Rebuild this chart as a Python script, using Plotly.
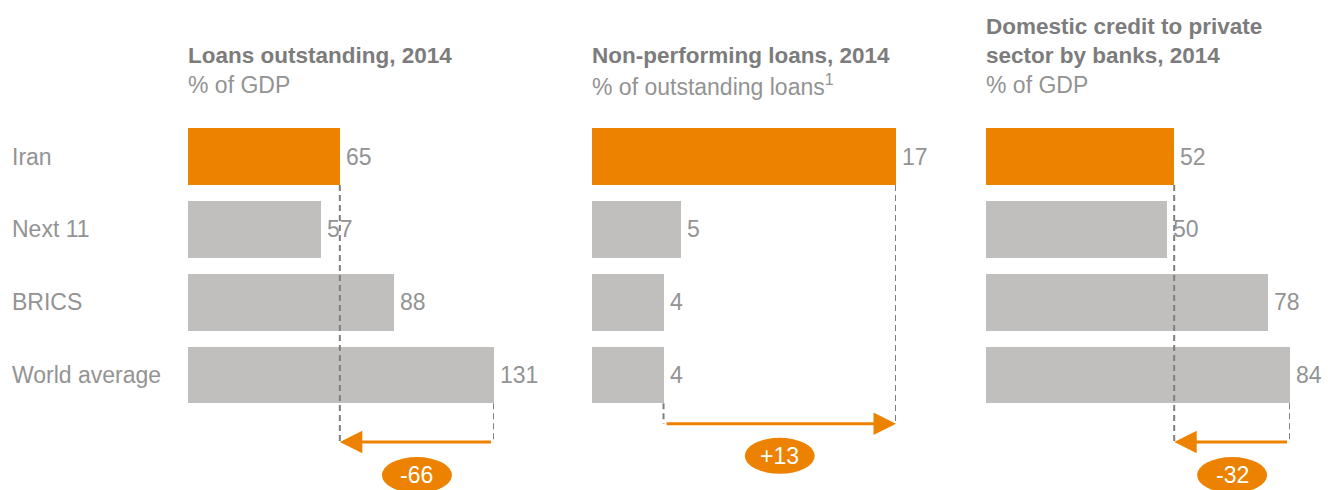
import plotly.graph_objects as go

# data
categories = ["Iran", "Next 11", "BRICS", "World average"]
loans_outstanding = [65, 57, 88, 131]
non_performing = [17, 5, 4, 4]
domestic_credit = [52, 50, 78, 84]

panel_titles = [
    ["Loans outstanding, 2014"],
    ["Non-performing loans, 2014"],
    ["Domestic credit to private", "sector by banks, 2014"],
]
panel_units = ["% of GDP", "% of outstanding loans<sup>1</sup>", "% of GDP"]
deltas = ["-66", "+13", "-32"]

ORANGE = "#ED8200"
GREY_BAR = "#C1BFBD"
TXT = "#939393"
TITLE = "#7C7C7C"
FONT = "Liberation Sans, Arial, sans-serif"

W, H = 1328, 490


def py(px):
    # pixel row -> paper y
    return 1 - px / H


panels = [loans_outstanding, non_performing, domestic_credit]
x_domains = [(188, 494), (592, 896), (986, 1290)]
arrow_rows = [3.92, 3.67, 3.92]
badge_rows = [4.375, 4.11, 4.375]

fig = go.Figure()
shapes, annots = [], []

for i, vals in enumerate(panels):
    xa = "x" if i == 0 else f"x{i + 1}"
    colors = [ORANGE] + [GREY_BAR] * (len(vals) - 1)
    fig.add_trace(go.Bar(
        x=vals, y=list(range(len(vals))), orientation="h",
        marker=dict(color=colors, line_width=0), width=0.78,
        xaxis=xa, yaxis="y", hoverinfo="skip", showlegend=False,
    ))
    d0, d1 = x_domains[i]
    fig.layout[("xaxis" if i == 0 else f"xaxis{i + 1}")] = dict(
        domain=[d0 / W, d1 / W], range=[0, max(vals)], visible=False,
        anchor="y", fixedrange=True,
    )

    # value labels
    for j, v in enumerate(vals):
        annots.append(dict(
            x=v, y=j, xref=xa, yref="y", text=str(v), showarrow=False,
            xanchor="left", xshift=4, font=dict(size=23, color=TXT),
        ))

    iran, world = vals[0], vals[-1]
    ar = arrow_rows[i]
    dash = dict(color="#7F7F7F", width=2, dash="6px,4px")
    shapes.append(dict(type="line", xref=xa, yref="y", x0=iran, x1=iran,
                       y0=0.39, y1=ar, line=dash, layer="above"))
    shapes.append(dict(type="line", xref=xa, yref="y", x0=world, x1=world,
                       y0=3.39, y1=ar, line=dash, layer="above"))
    annots.append(dict(
        x=iran, y=ar, ax=world, ay=ar, xref=xa, yref="y",
        axref=xa, ayref="y", text=" ", showarrow=True,
        arrowhead=2, arrowsize=1.5, arrowwidth=3, arrowcolor=ORANGE,
    ))

    mid = (iran + world) / 2
    br = badge_rows[i]
    shapes.append(dict(type="circle", xref=xa, yref="y",
                       xsizemode="pixel", ysizemode="pixel",
                       xanchor=mid, yanchor=br, x0=-35, x1=35, y0=-18, y1=18,
                       fillcolor=ORANGE, line_width=0, layer="above"))
    annots.append(dict(x=mid, y=br, xref=xa, yref="y", text=deltas[i],
                       showarrow=False, font=dict(size=23, color="white")))

    # titles
    rows = panel_titles[i]
    start = 55 - 28 * (len(rows) - 1)
    for k, t in enumerate(rows):
        annots.append(dict(x=(d0 - 2) / W, y=py(start + 28 * k), xref="paper", yref="paper",
                           text=f"<b>{t}</b>", showarrow=False, xanchor="left",
                           yanchor="middle", font=dict(size=22.5, color=TITLE)))
    annots.append(dict(x=(d0 - 2) / W, y=py(85), xref="paper", yref="paper",
                       text=panel_units[i], showarrow=False, xanchor="left",
                       yanchor="middle", font=dict(size=23, color=TXT)))

for j, c in enumerate(categories):
    annots.append(dict(x=10 / W, y=j, xref="paper", yref="y", text=c,
                       showarrow=False, xanchor="left",
                       font=dict(size=23, color=TXT)))

fig.update_layout(
    width=W, height=H, margin=dict(l=0, r=0, t=0, b=0),
    paper_bgcolor="white", plot_bgcolor="white",
    font=dict(family=FONT, color=TXT),
    yaxis=dict(domain=[0, 1], range=[4.58, -2.15], visible=False, fixedrange=True),
    shapes=shapes, annotations=annots, bargap=0,
)

fig.write_html("out.html", config={"displayModeBar": False},
               post_script="document.body.style.margin='0';")
